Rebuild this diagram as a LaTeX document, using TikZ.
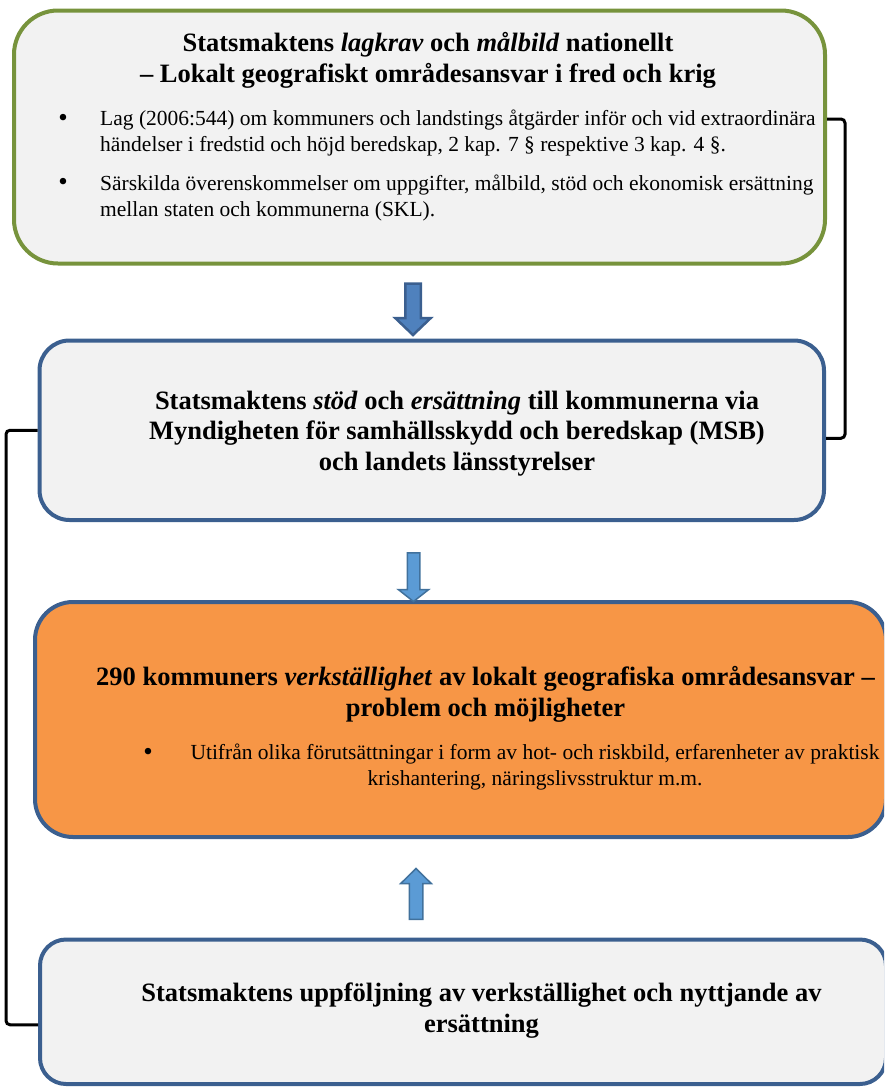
\documentclass[tikz,border=0pt]{standalone}
\usepackage{fontspec}
\setmainfont{Liberation Serif}
\definecolor{boxgreen}{HTML}{77933C}
\definecolor{boxblue}{HTML}{3B5F8F}
\definecolor{boxgrey}{HTML}{F2F2F2}
\definecolor{boxorange}{HTML}{F79646}
\definecolor{arrowdark}{HTML}{4F81BD}
\definecolor{arrowlight}{HTML}{5B9BD5}
\definecolor{arrowedge}{HTML}{41719C}
\tikzset{
	box/.style={rectangle, rounded corners=#1, inner sep=0pt, line width=4pt},
	box/.default=30pt,
	boxtitle/.style={font=\fontsize{26.5}{30.5}\selectfont\bfseries, align=center, inner sep=0pt, anchor=base},
	boxbody/.style={font=\fontsize{21.5}{25.5}\selectfont, inner sep=0pt, anchor=base},
	boxdot/.style={font=\fontsize{27}{27}\selectfont, inner sep=0pt, anchor=base},
	blockarrow/.style={line width=1.5pt, draw=arrowedge, fill=arrowlight, line join=miter}
}
\tikzset{link/.style={line width=3pt, black, rounded corners=4pt}}
% tip, length : shaft : head width : head length
\def\blockpil[#1](#2)(#3:#4:#5:#6){\draw[#1, shift={(#2)}] (0, 0) -- (#5/2, -#6) -- (#4/2, -#6) -- (#4/2, -#3) -- (-#4/2, -#3) -- (-#4/2, -#6) -- (-#5/2, -#6) -- cycle;}

\begin{document}
\begin{tikzpicture}[x=1pt, y=-1pt]
			%%%%% START %%%%%
			\useasboundingbox (0, 0) rectangle (884, 1087);
			\clip (0, 0) rectangle (884, 1087);
			
			\node[box=44pt, draw=boxgreen, fill=boxgrey, minimum width=811pt, minimum height=253pt] (lagkrav) at (419.5, 137) {};
			\node[boxtitle] (lagkravtitle) at (428, 82) {Statsmaktens \textit{lagkrav} och \textit{målbild} nationellt\\– Lokalt geografiskt områdesansvar i fred och krig};
			\node[boxdot] (lagdot) at (63, 126) {•};
			\node[boxbody, anchor=base west, align=left] (lagtext) at (100, 151) {Lag (2006:544) om kommuners och landstings åtgärder inför och vid extraordinära\\händelser i fredstid och höjd beredskap, 2 kap. 7 § respektive 3 kap. 4 §.};
			\node[boxdot] (skldot) at (63, 190) {•};
			\node[boxbody, anchor=base west, align=left] (skltext) at (100, 216) {Särskilda överenskommelser om uppgifter, målbild, stöd och ekonomisk ersättning\\mellan staten och kommunerna (SKL).};
			
			\node[box=30pt, draw=boxblue, fill=boxgrey, minimum width=784.5pt, minimum height=179.5pt] (stod) at (431.75, 430.25) {};
			\node[boxtitle] (stodtitle) at (457, 470) {Statsmaktens \textit{stöd} och \textit{ersättning} till kommunerna via\\Myndigheten för samhällsskydd och beredskap (MSB)\\och landets länsstyrelser};
			
			\node[box=38pt, draw=boxblue, fill=boxorange, minimum width=851pt, minimum height=235pt] (kommun) at (460.5, 719.5) {};
			\node[boxtitle] (kommuntitle) at (485.5, 716) {290 kommuners \textit{verkställighet} av lokalt geografiska områdesansvar –\\problem och möjligheter};
			\node[boxdot] (kommundot) at (148, 760) {•};
			\node[boxbody, align=center] (kommuntext) at (535, 785) {Utifrån olika förutsättningar i form av hot- och riskbild, erfarenheter av praktisk\\krishantering, näringslivsstruktur m.m.};
			
			\node[box=26pt, draw=boxblue, fill=boxgrey, minimum width=846pt, minimum height=144.5pt] (uppf) at (463, 1011.75) {};
			\node[boxtitle] (uppftitle) at (481.5, 1032) {Statsmaktens uppföljning av verkställighet och nyttjande av\\ersättning};
			
			\blockpil[blockarrow, fill=arrowdark, draw=boxblue, line width=2.5pt](413, 335)(51.5:15.5:35.5:17)
			\blockpil[blockarrow](413.5, 601.5)(48.75:12.5:30.5:12)
			\blockpil[blockarrow](416, 868.5)(-50.75:13.5:30.5:-15)
			
			\draw[link] ([yshift=18pt]lagkrav.east) -| ([xshift=19pt, yshift=-8pt]stod.east) -- ([yshift=-8pt]stod.east);
			\draw[link] (stod.west) -- ++(-31.5, 0) |- ([yshift=-13pt]uppf.west);
			
			%%%%% END %%%%%
\end{tikzpicture}
\end{document}
